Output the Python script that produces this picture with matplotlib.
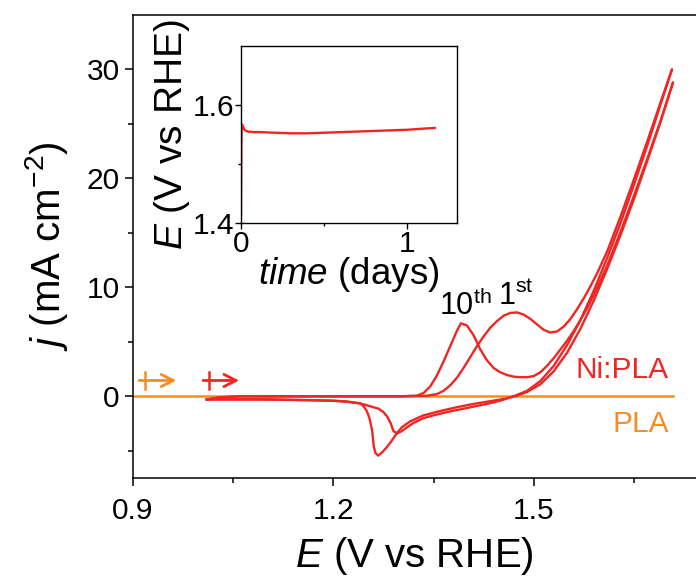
import matplotlib.pyplot as plt
import matplotlib

matplotlib.rcParams['font.family'] = 'Liberation Sans'
matplotlib.rcParams['mathtext.fontset'] = 'custom'
matplotlib.rcParams['mathtext.rm'] = 'Liberation Sans'
matplotlib.rcParams['mathtext.it'] = 'Liberation Sans:italic'

# ---- CV data (E in V vs RHE, j in mA cm-2) ----
# 1st cycle, forward scan
e_fwd1 = [1.01, 1.03, 1.06, 1.10, 1.20, 1.30, 1.34, 1.355, 1.365, 1.375, 1.385, 1.395,
          1.405, 1.415, 1.425, 1.435, 1.445, 1.455, 1.465, 1.475, 1.485, 1.495, 1.505,
          1.515, 1.525, 1.535, 1.545, 1.555, 1.565, 1.575, 1.585, 1.595, 1.61, 1.63,
          1.65, 1.67, 1.69, 1.707]
j_fwd1 = [-0.3, -0.1, 0.0, 0.0, 0.0, 0.0, 0.05, 0.2, 0.5, 1.0, 1.7, 2.6,
          3.6, 4.6, 5.5, 6.3, 6.9, 7.4, 7.65, 7.7, 7.5, 7.1, 6.6,
          6.1, 5.85, 5.95, 6.4, 7.1, 8.0, 9.0, 10.1, 11.3, 13.3, 16.5,
          19.9, 23.4, 27.0, 30.0]
# 1st cycle, reverse scan
e_rev1 = [1.707, 1.69, 1.67, 1.65, 1.63, 1.61, 1.59, 1.57, 1.55, 1.53, 1.51, 1.49,
          1.47, 1.45, 1.43, 1.41, 1.39, 1.37, 1.35, 1.335, 1.32, 1.31, 1.3025, 1.2955,
          1.29, 1.286, 1.281, 1.275, 1.268, 1.257, 1.24, 1.22, 1.20, 1.165, 1.10,
          1.05, 1.01]
j_rev1 = [30.0, 26.8, 23.0, 19.4, 15.9, 12.7, 9.7, 7.0, 4.7, 2.8, 1.4, 0.5,
          0.0, -0.4, -0.7, -0.95, -1.2, -1.45, -1.75, -2.0, -2.45, -2.85, -3.2, -3.4,
          -3.2, -2.5, -1.9, -1.45, -1.15, -0.95, -0.65, -0.5, -0.42, -0.37, -0.3,
          -0.3, -0.3]
# 10th cycle, forward scan
e_fwd10 = [1.01, 1.03, 1.06, 1.10, 1.20, 1.30, 1.325, 1.335, 1.345, 1.355, 1.365,
           1.375, 1.385, 1.391, 1.40, 1.41, 1.42, 1.43, 1.44, 1.45, 1.46, 1.47,
           1.48, 1.49, 1.50, 1.51, 1.52, 1.53, 1.54, 1.55, 1.56, 1.57, 1.58, 1.59,
           1.61, 1.63, 1.65, 1.67, 1.69, 1.7085]
j_fwd10 = [-0.3, -0.1, 0.0, 0.0, 0.0, 0.0, 0.05, 0.3, 0.9, 1.9, 3.2,
           4.6, 6.0, 6.7, 6.5, 5.6, 4.3, 3.3, 2.6, 2.2, 1.95, 1.8,
           1.75, 1.75, 1.85, 2.2, 2.8, 3.5, 4.3, 5.1, 6.0, 7.0, 8.1, 9.3,
           12.0, 15.1, 18.4, 21.8, 25.3, 28.8]
# 10th cycle, reverse scan
e_rev10 = [1.7085, 1.69, 1.67, 1.65, 1.63, 1.61, 1.59, 1.57, 1.55, 1.53, 1.51,
           1.49, 1.475, 1.455, 1.435, 1.41, 1.385, 1.36, 1.335, 1.315, 1.3025,
           1.2955, 1.286, 1.279, 1.273, 1.267, 1.263, 1.2605, 1.258, 1.254, 1.25,
           1.245, 1.24, 1.22, 1.20, 1.165, 1.10, 1.05, 1.01]
j_rev10 = [28.8, 25.2, 21.6, 18.1, 14.8, 11.7, 8.8, 6.2, 4.0, 2.3, 1.1,
           0.4, 0.05, -0.25, -0.45, -0.7, -1.0, -1.35, -1.75, -2.3, -2.85,
           -3.35, -4.2, -4.75, -5.15, -5.45, -5.2, -4.6, -3.1, -2.0, -1.35,
           -0.9, -0.65, -0.48, -0.4, -0.35, -0.28, -0.27, -0.27]
# bare PLA
e_pla = [0.9, 1.2, 1.5, 1.709]
j_pla = [0.0, 0.0, 0.0, 0.0]

# ---- inset: chronopotentiometry ----
t_days = [0.0, 0.001, 0.002, 0.004, 0.01, 0.02, 0.04, 0.08, 0.12, 0.2, 0.3, 0.4,
          0.5, 0.6, 0.7, 0.8, 0.9, 1.0, 1.1, 1.164]
e_stab = [1.415, 1.47, 1.53, 1.567, 1.565, 1.558, 1.555, 1.554, 1.554, 1.553, 1.552,
          1.552, 1.553, 1.554, 1.555, 1.556, 1.557, 1.558, 1.560, 1.561]

red = (238/255, 38/255, 36/255)
orange = (246/255, 140/255, 40/255)

fig = plt.figure(figsize=(6.96, 5.77), dpi=100)
ax = fig.add_axes([0.1911, 0.1716, 0.8089, 0.8024])

ax.plot(e_pla, j_pla, color=orange, lw=1.8, zorder=2)
for e, j in [(e_fwd1, j_fwd1), (e_rev1, j_rev1), (e_fwd10, j_fwd10), (e_rev10, j_rev10)]:
    ax.plot(e, j, color=red, lw=1.7, zorder=3, solid_capstyle='round')

# scan direction arrows
for x0, x1, c in [(0.909, 0.965, orange), (1.005, 1.059, red)]:
    ax.annotate('', xy=(x1, 1.45), xytext=(x0, 1.45),
                arrowprops=dict(arrowstyle='->', color=c, lw=2.0,
                                mutation_scale=22, shrinkA=0, shrinkB=0))
    ax.plot([x0 + 0.009, x0 + 0.009], [0.7, 2.2], color=c, lw=1.8)

ax.text(1.3585, 7.45, '10$^{\\mathrm{th}}$', fontsize=22, ha='left', va='baseline')
ax.text(1.447, 8.4, '1$^{\\mathrm{st}}$', fontsize=22, ha='left', va='baseline')
ax.text(1.7025, 1.65, 'Ni:PLA', fontsize=21.5, color=red, ha='right', va='baseline')
ax.text(1.7025, -3.3, 'PLA', fontsize=21.5, color=orange, ha='right', va='baseline')

ax.set_xlim(0.9, 1.743)
ax.set_ylim(-7.5, 35)
ax.set_xticks([0.9, 1.2, 1.5])
ax.set_xticks([1.05, 1.35, 1.65], minor=True)
ax.set_yticks([0, 10, 20, 30])
ax.set_yticks([-5, 5, 15, 25], minor=True)
ax.tick_params(axis='x', which='major', pad=8)
ax.tick_params(which='major', length=6, width=1.1, labelsize=21.5)
ax.tick_params(which='minor', length=3.6, width=1.1)
ax.spines['right'].set_visible(False)
for s in ['left', 'bottom', 'top']:
    ax.spines[s].set_linewidth(1.1)
ax.set_xlabel('$\\mathit{E}$ (V vs RHE)', fontsize=29, labelpad=7)
ax.set_ylabel('$\\mathit{j}$ (mA cm$^{-2}$)', fontsize=29, labelpad=12)

# inset
ins = fig.add_axes([0.3463, 0.613, 0.3108, 0.3078])
ins.plot(t_days, e_stab, color=red, lw=1.7)
ins.set_xlim(0, 1.3)
ins.set_ylim(1.4, 1.7)
ins.set_xticks([0, 1])
ins.set_xticks([0.5], minor=True)
ins.set_yticks([1.4, 1.6])
ins.set_yticks([1.5], minor=True)
ins.tick_params(which='major', length=4, width=1.0, labelsize=21.5, pad=1)
ins.tick_params(which='minor', length=2.5, width=1.0)
for s in ins.spines.values():
    s.set_linewidth(1.0)
ins.set_xlabel('$\\mathit{time}$ (days)', fontsize=26.5, labelpad=-2)
ins.set_ylabel('$\\mathit{E}$ (V vs RHE)', fontsize=28, labelpad=0)

fig.savefig('out.png', dpi=100)
